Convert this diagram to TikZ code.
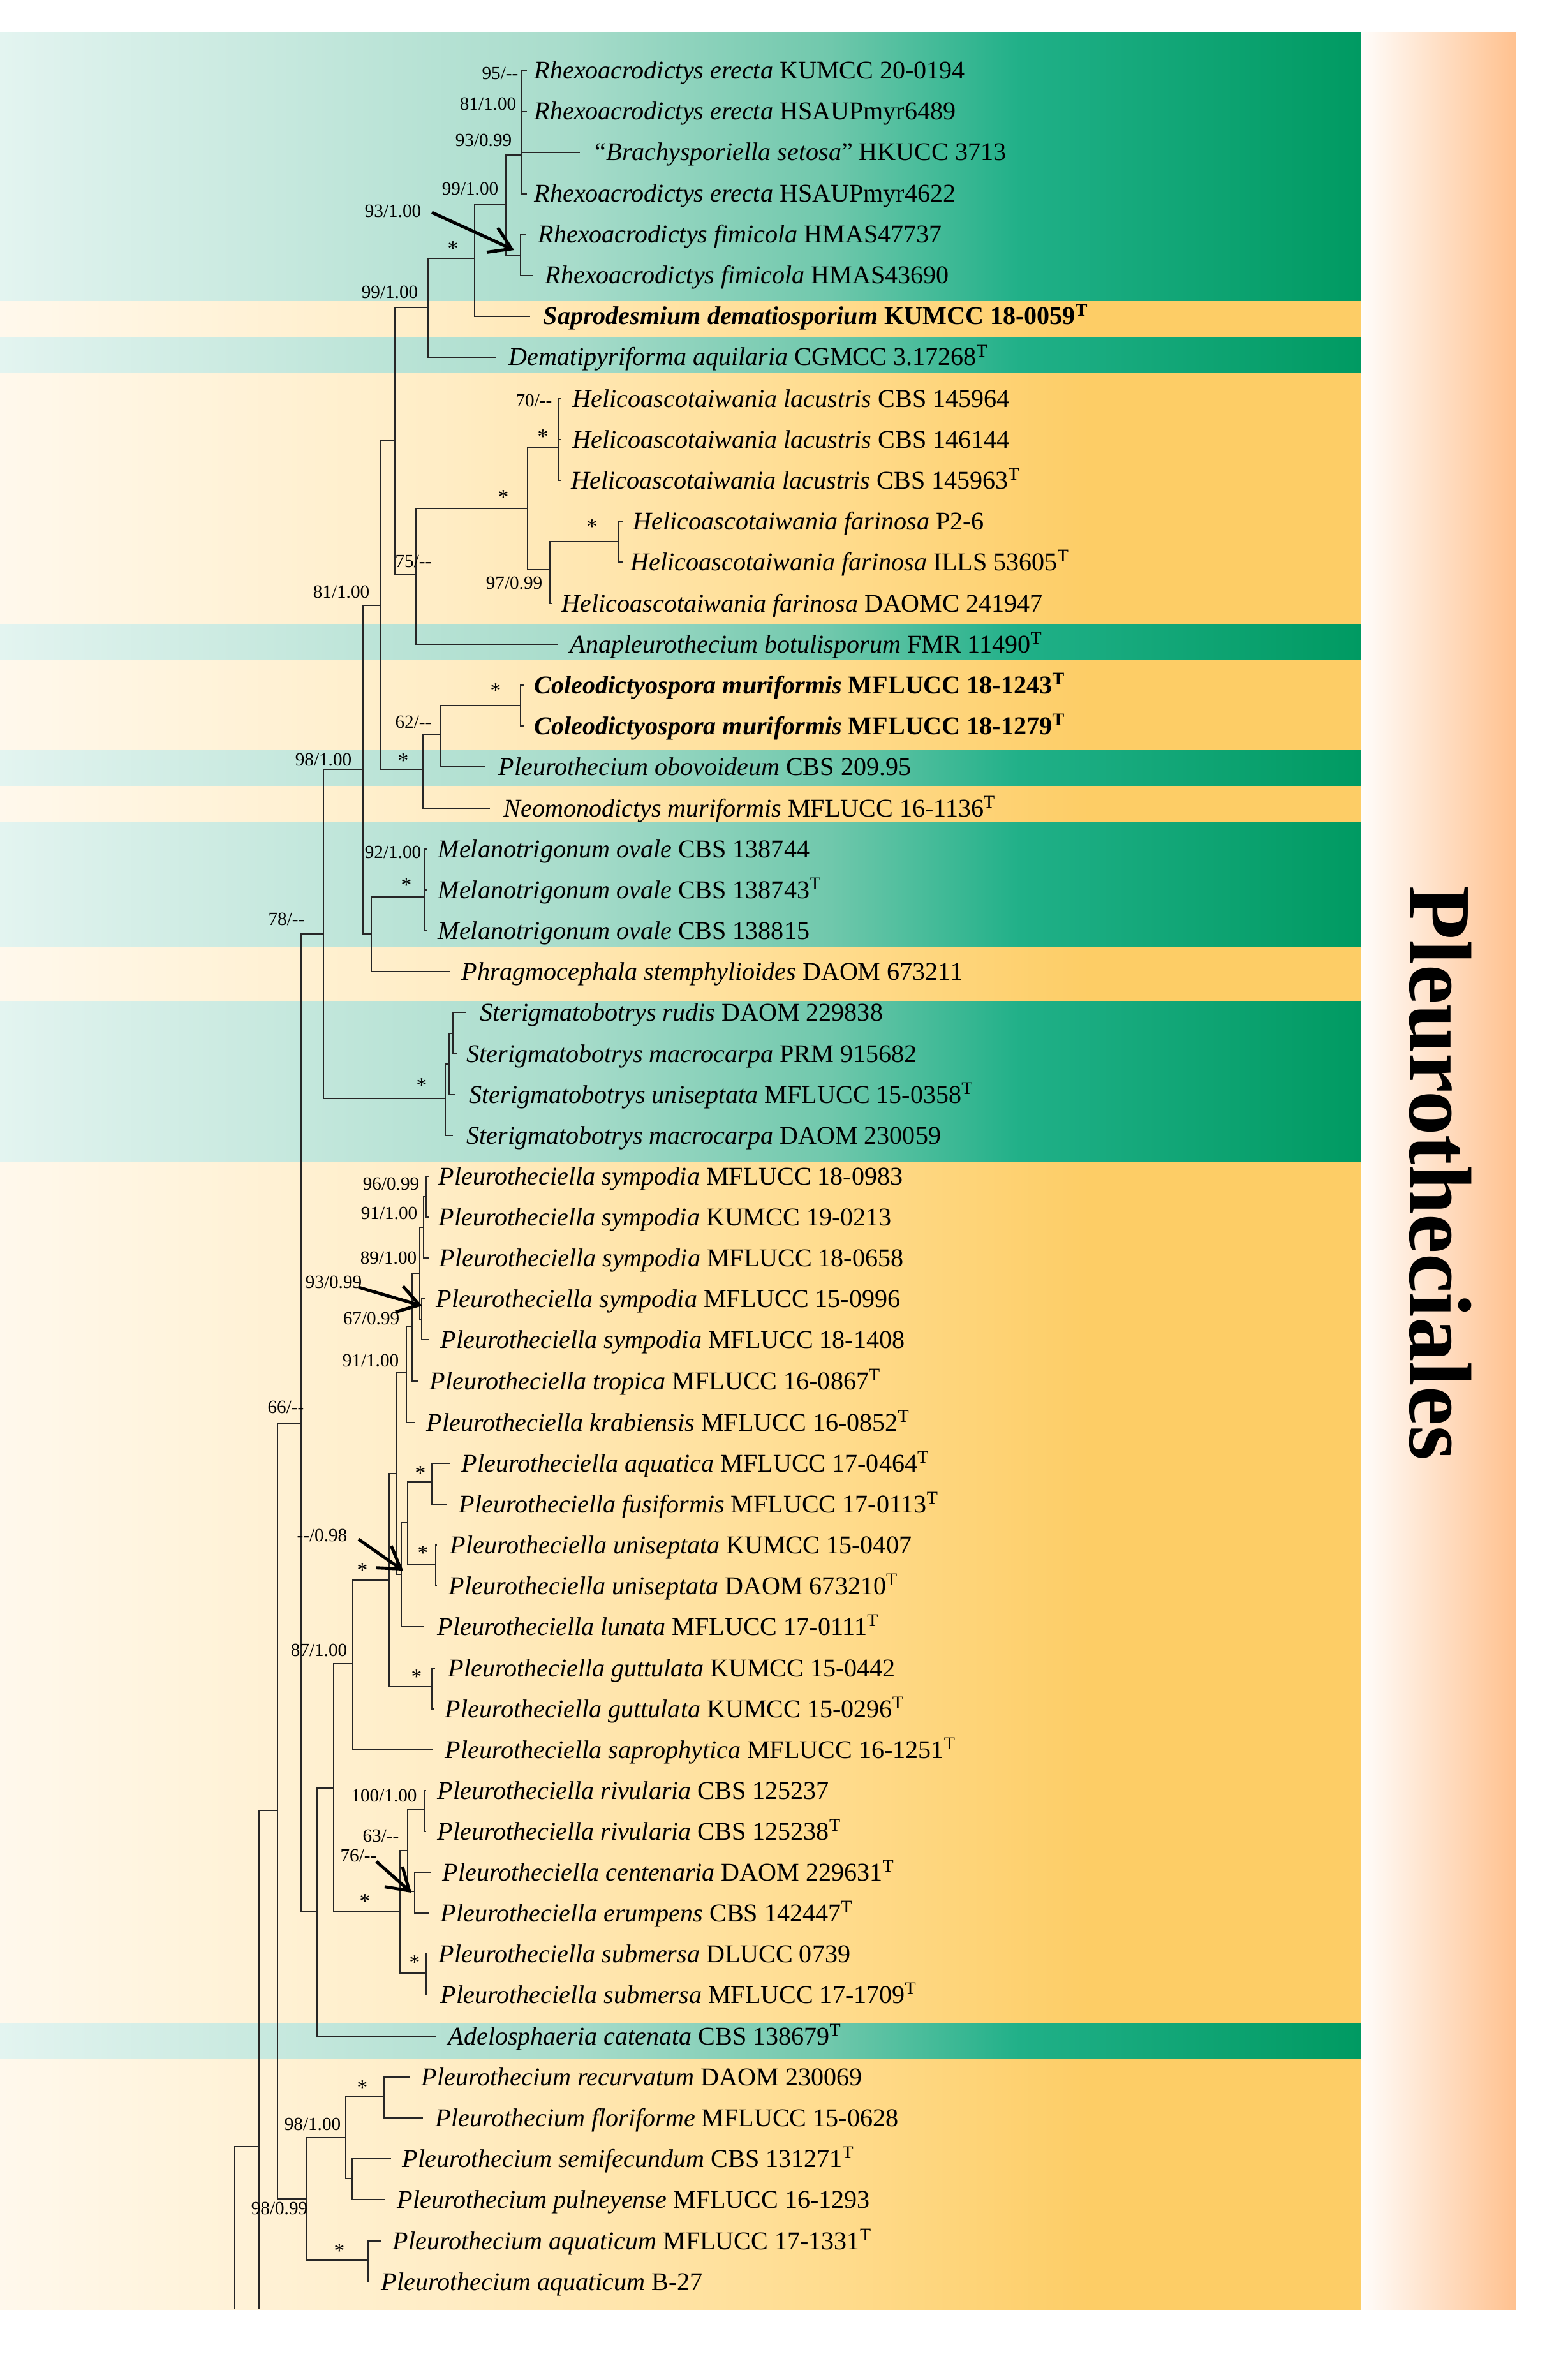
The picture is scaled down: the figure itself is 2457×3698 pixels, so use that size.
\documentclass[tikz,border=0pt]{standalone}
\usepackage{fontspec}
\setmainfont{Liberation Serif}
\usetikzlibrary{arrows.meta}

\definecolor{gA}{HTML}{E3F4F0}
\definecolor{gB}{HTML}{A8DCCB}
\definecolor{gC}{HTML}{70C8AC}
\definecolor{gD}{HTML}{20B088}
\definecolor{gE}{HTML}{009A62}
\definecolor{yA}{HTML}{FFF8EC}
\definecolor{yB}{HTML}{FFEDC6}
\definecolor{yC}{HTML}{FFDC8E}
\definecolor{yD}{HTML}{FDCD66}
\definecolor{pA}{HTML}{FFFDFB}
\definecolor{pB}{HTML}{FFC18F}

\pgfdeclarehorizontalshading{gband}{100bp}{color(0bp)=(gA); color(25bp)=(gA);
  color(46bp)=(gB); color(55.5bp)=(gC); color(62.5bp)=(gD); color(75bp)=(gE); color(100bp)=(gE)}
\pgfdeclarehorizontalshading{yband}{100bp}{color(0bp)=(yA); color(25bp)=(yA);
  color(41bp)=(yB); color(55.5bp)=(yC); color(65bp)=(yD); color(75bp)=(yD); color(100bp)=(yD)}

\newcommand\tT{\textsuperscript{T}}

\tikzset{
  br/.style={line width=0.5pt, draw=black!85},
  taxon/.style={anchor=base west, yshift=-0.13cm, inner sep=0pt, font=\fontsize{11.4}{13}\selectfont},
  bs/.style={inner sep=0pt, font=\fontsize{8.3}{10}\selectfont},
  st/.style={inner sep=0pt, font=\fontsize{9.5}{10}\selectfont},
  ann/.style={->, >={Straight Barb[length=3.3mm,width=4.2mm]}, line width=1.4pt},
}

\begin{document}
\begin{tikzpicture}[x=0.01cm, y=-0.01cm]
\useasboundingbox (0,0) rectangle (2457,3698);
\fill[white] (0,0) rectangle (2457,3698);

% bands
\shade[shading=gband] (0,51) rectangle (2133,473);
\shade[shading=yband] (0,473) rectangle (2133,529);
\shade[shading=gband] (0,529) rectangle (2133,585);
\shade[shading=yband] (0,585) rectangle (2133,979);
\shade[shading=gband] (0,979) rectangle (2133,1035);
\shade[shading=yband] (0,1035) rectangle (2133,1176);
\shade[shading=gband] (0,1176) rectangle (2133,1232);
\shade[shading=yband] (0,1232) rectangle (2133,1288);
\shade[shading=gband] (0,1288) rectangle (2133,1485);
\shade[shading=yband] (0,1485) rectangle (2133,1569);
\shade[shading=gband] (0,1569) rectangle (2133,1822);
\shade[shading=yband] (0,1822) rectangle (2133,3171);
\shade[shading=gband] (0,3171) rectangle (2133,3227);
\shade[shading=yband] (0,3227) rectangle (2133,3620);
\shade[left color=pA, right color=pB] (2133,51) rectangle (2376,3620);

\node[rotate=-90, inner sep=0pt, font=\fontsize{39.5}{41}\selectfont\bfseries] (order) at (2258,1839) {Pleurotheciales};

% internal nodes
\coordinate (ee) at (818,243);   \coordinate (ff) at (816,400);
\coordinate (n99a) at (793,321); \coordinate (nst1) at (744,405);
\coordinate (n99b) at (671,482); \coordinate (lac) at (876,701);
\coordinate (far2) at (970,849); \coordinate (far) at (862,893);
\coordinate (hel) at (827,797);  \coordinate (n75) at (652,901);
\coordinate (n619) at (619,691); \coordinate (coleo) at (816,1106);
\coordinate (n62) at (690,1151); \coordinate (nst2) at (663,1206);
\coordinate (n81) at (597,949);  \coordinate (mel) at (666,1406);
\coordinate (melph) at (582,1464); \coordinate (n98a) at (569,1206);
\coordinate (s3) at (710,1620);  \coordinate (s2) at (704,1668);
\coordinate (s1) at (698,1722);  \coordinate (n78) at (507,1464);
\coordinate (s96) at (668,1876); \coordinate (s91) at (664,1924);
\coordinate (s93) at (661,2068); \coordinate (s89) at (658,1996);
\coordinate (s91b) at (646,2080); \coordinate (sk) at (637,2152);
\coordinate (aqf) at (677,2323); \coordinate (uni) at (683,2452);
\coordinate (sz) at (639,2387);  \coordinate (sy) at (629,2468);
\coordinate (sx) at (622,2310);  \coordinate (gut) at (677,2644);
\coordinate (sn) at (610,2477);  \coordinate (s87) at (553,2608);
\coordinate (riv) at (666,2837); \coordinate (ce) at (650,2965);
\coordinate (s63) at (639,2901); \coordinate (sub) at (668,3093);
\coordinate (s76) at (627,2997); \coordinate (s523) at (523,2803);
\coordinate (sad) at (497,2997); \coordinate (n66) at (472,2231);
\coordinate (rec) at (602,3287); \coordinate (sem) at (552,3415);
\coordinate (p98) at (542,3351); \coordinate (aqu) at (577,3543);
\coordinate (p98b) at (481,3447); \coordinate (n435) at (435,2838);
\coordinate (n406) at (406,3365);
\coordinate (cut1) at (406,3620); \coordinate (cut2) at (368,3620);

% tips
\coordinate (t1) at (826,111);  \coordinate (t2) at (826,175);
\coordinate (t3) at (909,239);  \coordinate (t4) at (826,304);
\coordinate (t5) at (824,368);  \coordinate (t6) at (835,432);
\coordinate (t7) at (831,496);  \coordinate (t8) at (777,560);
\coordinate (t9) at (880,625);  \coordinate (t10) at (880,689);
\coordinate (t11) at (880,753); \coordinate (t12) at (976,817);
\coordinate (t13) at (976,881); \coordinate (t14) at (866,946);
\coordinate (t15) at (874,1010); \coordinate (t16) at (822,1074);
\coordinate (t17) at (822,1138); \coordinate (t18) at (760,1202);
\coordinate (t19) at (768,1267); \coordinate (t20) at (670,1331);
\coordinate (t21) at (670,1395); \coordinate (t22) at (670,1459);
\coordinate (t23) at (706,1523); \coordinate (t24) at (731,1587);
\coordinate (t25) at (716,1652); \coordinate (t26) at (714,1716);
\coordinate (t27) at (710,1780); \coordinate (t28) at (672,1844);
\coordinate (t29) at (672,1908); \coordinate (t30) at (672,1972);
\coordinate (t31) at (666,2036); \coordinate (t32) at (672,2100);
\coordinate (t33) at (655,2165); \coordinate (t34) at (650,2230);
\coordinate (t35) at (706,2294); \coordinate (t36) at (701,2358);
\coordinate (t37) at (685,2422); \coordinate (t38) at (685,2486);
\coordinate (t39) at (665,2550); \coordinate (t40) at (682,2615);
\coordinate (t41) at (680,2679); \coordinate (t42) at (678,2743);
\coordinate (t43) at (668,2807); \coordinate (t44) at (668,2871);
\coordinate (t45) at (675,2935); \coordinate (t46) at (672,2999);
\coordinate (t47) at (670,3063); \coordinate (t48) at (670,3127);
\coordinate (t49) at (683,3192); \coordinate (t50) at (643,3256);
\coordinate (t51) at (663,3320); \coordinate (t52) at (613,3384);
\coordinate (t53) at (604,3448); \coordinate (t54) at (597,3513);
\coordinate (t55) at (579,3577);

% branches
\draw[br] (ee) |- (t1) (ee) |- (t2) (ee) |- (t3) (ee) |- (t4)
  (ff) |- (t5) (ff) |- (t6) (n99a) |- (ee) (n99a) |- (ff)
  (nst1) |- (n99a) (nst1) |- (t7) (n99b) |- (nst1) (n99b) |- (t8)
  (lac) |- (t9) (lac) |- (t10) (lac) |- (t11)
  (far2) |- (t12) (far2) |- (t13) (far) |- (far2) (far) |- (t14)
  (hel) |- (lac) (hel) |- (far) (n75) |- (hel) (n75) |- (t15)
  (n619) |- (n99b) (n619) |- (n75)
  (coleo) |- (t16) (coleo) |- (t17) (n62) |- (coleo) (n62) |- (t18)
  (nst2) |- (n62) (nst2) |- (t19) (n81) |- (n619) (n81) |- (nst2)
  (mel) |- (t20) (mel) |- (t21) (mel) |- (t22)
  (melph) |- (mel) (melph) |- (t23) (n98a) |- (n81) (n98a) |- (melph)
  (s3) |- (t24) (s3) |- (t25) (s2) |- (s3) (s2) |- (t26)
  (s1) |- (s2) (s1) |- (t27) (n78) |- (n98a) (n78) |- (s1);
\draw[br] (s96) |- (t28) (s96) |- (t29) (s91) |- (s96) (s91) |- (t30)
  (s93) |- (t31) (s93) |- (t32) (s89) |- (s91) (s89) |- (s93)
  (s91b) |- (s89) (s91b) |- (t33) (sk) |- (s91b) (sk) |- (t34)
  (aqf) |- (t35) (aqf) |- (t36) (uni) |- (t37) (uni) |- (t38)
  (sz) |- (aqf) (sz) |- (uni) (sy) |- (sz) (sy) |- (t39)
  (sx) |- (sk) (sx) |- (sy) (gut) |- (t40) (gut) |- (t41)
  (sn) |- (sx) (sn) |- (gut) (s87) |- (sn) (s87) |- (t42)
  (riv) |- (t43) (riv) |- (t44) (ce) |- (t45) (ce) |- (t46)
  (s63) |- (riv) (s63) |- (ce) (sub) |- (t47) (sub) |- (t48)
  (s76) |- (s63) (s76) |- (sub) (s523) |- (s87) (s523) |- (s76)
  (sad) |- (s523) (sad) |- (t49) (n66) |- (n78) (n66) |- (sad);
\draw[br] (rec) |- (t50) (rec) |- (t51) (sem) |- (t52) (sem) |- (t53)
  (p98) |- (rec) (p98) |- (sem) (aqu) |- (t54) (aqu) |- (t55)
  (p98b) |- (p98) (p98b) |- (aqu) (n435) |- (n66) (n435) |- (p98b)
  (n406) |- (n435) (n406) -- (cut1) (cut2) |- (n406);

% taxa
\node[taxon] (l1) at (837,111) {\textit{Rhexoacrodictys erecta} KUMCC 20-0194};
\node[taxon] (l2) at (837,175) {\textit{Rhexoacrodictys erecta} HSAUPmyr6489};
\node[taxon] (l3) at (932,239) {``\textit{Brachysporiella setosa}'' HKUCC 3713};
\node[taxon] (l4) at (837,304) {\textit{Rhexoacrodictys erecta} HSAUPmyr4622};
\node[taxon] (l5) at (843,368) {\textit{Rhexoacrodictys fimicola} HMAS47737};
\node[taxon] (l6) at (854,432) {\textit{Rhexoacrodictys fimicola} HMAS43690};
\node[taxon] (l7) at (851,496) {\textbf{\textit{Saprodesmium dematiosporium} KUMCC 18-0059\tT}};
\node[taxon] (l8) at (797,560) {\textit{Dematipyriforma aquilaria} CGMCC 3.17268\tT};
\node[taxon] (l9) at (897,625) {\textit{Helicoascotaiwania lacustris} CBS 145964};
\node[taxon] (l10) at (897,689) {\textit{Helicoascotaiwania lacustris} CBS 146144};
\node[taxon] (l11) at (895,753) {\textit{Helicoascotaiwania lacustris} CBS 145963\tT};
\node[taxon] (l12) at (992,817) {\textit{Helicoascotaiwania farinosa} P2-6};
\node[taxon] (l13) at (988,881) {\textit{Helicoascotaiwania farinosa} ILLS 53605\tT};
\node[taxon] (l14) at (880,946) {\textit{Helicoascotaiwania farinosa} DAOMC 241947};
\node[taxon] (l15) at (893,1010) {\textit{Anapleurothecium botulisporum} FMR 11490\tT};
\node[taxon] (l16) at (837,1074) {\textbf{\textit{Coleodictyospora muriformis} MFLUCC 18-1243\tT}};
\node[taxon] (l17) at (837,1138) {\textbf{\textit{Coleodictyospora muriformis} MFLUCC 18-1279\tT}};
\node[taxon] (l18) at (781,1202) {\textit{Pleurothecium obovoideum} CBS 209.95};
\node[taxon] (l19) at (789,1267) {\textit{Neomonodictys muriformis} MFLUCC 16-1136\tT};
\node[taxon] (l20) at (686,1331) {\textit{Melanotrigonum ovale} CBS 138744};
\node[taxon] (l21) at (686,1395) {\textit{Melanotrigonum ovale} CBS 138743\tT};
\node[taxon] (l22) at (686,1459) {\textit{Melanotrigonum ovale} CBS 138815};
\node[taxon] (l23) at (723,1523) {\textit{Phragmocephala stemphylioides} DAOM 673211};
\node[taxon] (l24) at (752,1587) {\textit{Sterigmatobotrys rudis} DAOM 229838};
\node[taxon] (l25) at (731,1652) {\textit{Sterigmatobotrys macrocarpa} PRM 915682};
\node[taxon] (l26) at (735,1716) {\textit{Sterigmatobotrys uniseptata} MFLUCC 15-0358\tT};
\node[taxon] (l27) at (731,1780) {\textit{Sterigmatobotrys macrocarpa} DAOM 230059};
\node[taxon] (l28) at (687,1844) {\textit{Pleurotheciella sympodia} MFLUCC 18-0983};
\node[taxon] (l29) at (687,1908) {\textit{Pleurotheciella sympodia} KUMCC 19-0213};
\node[taxon] (l30) at (688,1972) {\textit{Pleurotheciella sympodia} MFLUCC 18-0658};
\node[taxon] (l31) at (683,2036) {\textit{Pleurotheciella sympodia} MFLUCC 15-0996};
\node[taxon] (l32) at (690,2100) {\textit{Pleurotheciella sympodia} MFLUCC 18-1408};
\node[taxon] (l33) at (673,2165) {\textit{Pleurotheciella tropica} MFLUCC 16-0867\tT};
\node[taxon] (l34) at (668,2230) {\textit{Pleurotheciella krabiensis} MFLUCC 16-0852\tT};
\node[taxon] (l35) at (723,2294) {\textit{Pleurotheciella aquatica} MFLUCC 17-0464\tT};
\node[taxon] (l36) at (719,2358) {\textit{Pleurotheciella fusiformis} MFLUCC 17-0113\tT};
\node[taxon] (l37) at (705,2422) {\textit{Pleurotheciella uniseptata} KUMCC 15-0407};
\node[taxon] (l38) at (703,2486) {\textit{Pleurotheciella uniseptata} DAOM 673210\tT};
\node[taxon] (l39) at (685,2550) {\textit{Pleurotheciella lunata} MFLUCC 17-0111\tT};
\node[taxon] (l40) at (702,2615) {\textit{Pleurotheciella guttulata} KUMCC 15-0442};
\node[taxon] (l41) at (697,2679) {\textit{Pleurotheciella guttulata} KUMCC 15-0296\tT};
\node[taxon] (l42) at (697,2743) {\textit{Pleurotheciella saprophytica} MFLUCC 16-1251\tT};
\node[taxon] (l43) at (685,2807) {\textit{Pleurotheciella rivularia} CBS 125237};
\node[taxon] (l44) at (685,2871) {\textit{Pleurotheciella rivularia} CBS 125238\tT};
\node[taxon] (l45) at (693,2935) {\textit{Pleurotheciella centenaria} DAOM 229631\tT};
\node[taxon] (l46) at (690,2999) {\textit{Pleurotheciella erumpens} CBS 142447\tT};
\node[taxon] (l47) at (687,3063) {\textit{Pleurotheciella submersa} DLUCC 0739};
\node[taxon] (l48) at (690,3127) {\textit{Pleurotheciella submersa} MFLUCC 17-1709\tT};
\node[taxon] (l49) at (702,3192) {\textit{Adelosphaeria catenata} CBS 138679\tT};
\node[taxon] (l50) at (660,3256) {\textit{Pleurothecium recurvatum} DAOM 230069};
\node[taxon] (l51) at (682,3320) {\textit{Pleurothecium floriforme} MFLUCC 15-0628};
\node[taxon] (l52) at (630,3384) {\textit{Pleurothecium semifecundum} CBS 131271\tT};
\node[taxon] (l53) at (622,3448) {\textit{Pleurothecium pulneyense} MFLUCC 16-1293};
\node[taxon] (l54) at (615,3513) {\textit{Pleurothecium aquaticum} MFLUCC 17-1331\tT};
\node[taxon] (l55) at (597,3577) {\textit{Pleurothecium aquaticum} B-27};

% support values
\node[bs] (b1) at (784,115) {95/-{}-};
\node[bs] (b2) at (765,163) {81/1.00};
\node[bs] (b3) at (758,220) {93/0.99};
\node[bs] (b4) at (737,296) {99/1.00};
\node[bs] (b5) at (616,331) {93/1.00};
\node[st] (b6) at (710,390) {*};
\node[bs] (b7) at (611,458) {99/1.00};
\node[bs] (b8) at (837,628) {70/-{}-};
\node[st] (b9) at (851,685) {*};
\node[st] (b10) at (789,780) {*};
\node[st] (b11) at (928,826) {*};
\node[bs] (b12) at (648,880) {75/-{}-};
\node[bs] (b13) at (806,914) {97/0.99};
\node[bs] (b14) at (535,928) {81/1.00};
\node[st] (b15) at (777,1083) {*};
\node[bs] (b16) at (648,1132) {62/-{}-};
\node[st] (b17) at (632,1193) {*};
\node[bs] (b18) at (507,1191) {98/1.00};
\node[bs] (b19) at (616,1336) {92/1.00};
\node[st] (b20) at (637,1388) {*};
\node[bs] (b21) at (449,1441) {78/-{}-};
\node[st] (b22) at (661,1702) {*};
\node[bs] (b23) at (613,1856) {96/0.99};
\node[bs] (b24) at (610,1902) {91/1.00};
\node[bs] (b25) at (609,1972) {89/1.00};
\node[bs] (b26) at (523,2010) {93/0.99};
\node[bs] (b27) at (582,2067) {67/0.99};
\node[bs] (b28) at (581,2133) {91/1.00};
\node[bs] (b29) at (448,2206) {66/-{}-};
\node[st] (b30) at (659,2310) {*};
\node[bs] (b31) at (505,2407) {-{}-/0.98};
\node[st] (b32) at (663,2435) {*};
\node[st] (b33) at (568,2462) {*};
\node[bs] (b34) at (500,2587) {87/1.00};
\node[st] (b35) at (653,2629) {*};
\node[bs] (b36) at (602,2815) {100/1.00};
\node[bs] (b37) at (597,2878) {63/-{}-};
\node[bs] (b38) at (562,2909) {76/-{}-};
\node[st] (b39) at (572,2981) {*};
\node[st] (b40) at (650,3077) {*};
\node[bs] (b41) at (490,3330) {98/1.00};
\node[st] (b42) at (568,3273) {*};
\node[bs] (b43) at (438,3462) {98/0.99};
\node[st] (b44) at (532,3529) {*};

% pointers
\coordinate (a1) at (677,333);  \coordinate (a1e) at (806,392);
\coordinate (a2) at (562,2018); \coordinate (a2e) at (662,2047);
\coordinate (a3) at (562,2413); \coordinate (a3e) at (632,2462);
\coordinate (a4) at (590,2918); \coordinate (a4e) at (645,2967);
\draw[ann] (a1) -- (a1e);
\draw[ann] (a2) -- (a2e);
\draw[ann] (a3) -- (a3e);
\draw[ann] (a4) -- (a4e);
\end{tikzpicture}
\end{document}
